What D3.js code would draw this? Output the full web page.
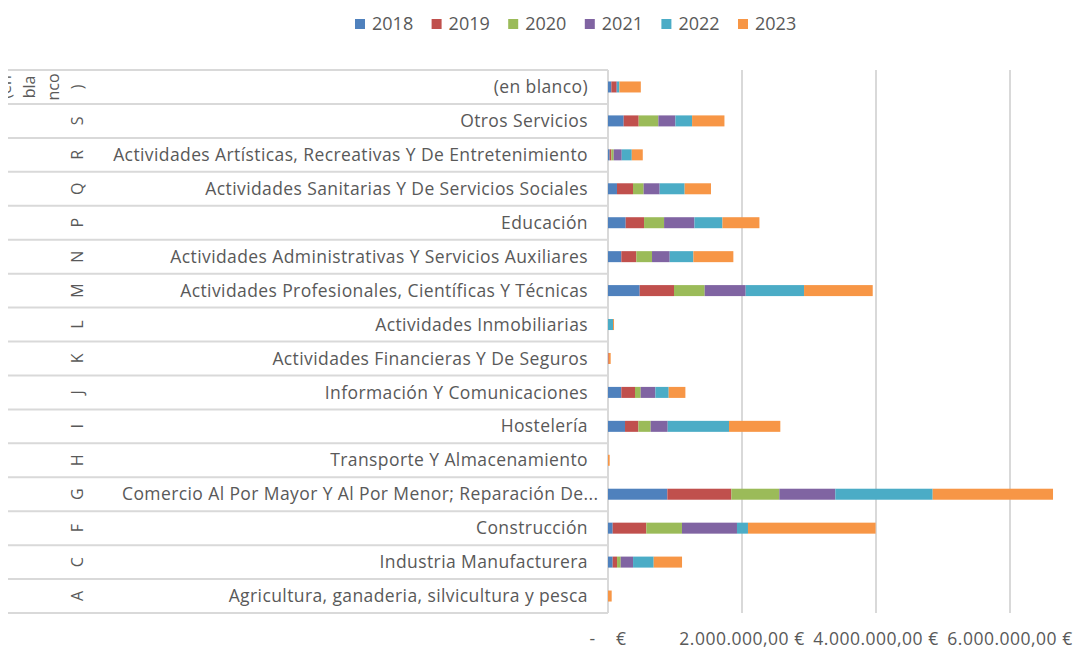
<!DOCTYPE html>
<html lang="es">
<head>
<meta charset="UTF-8">
<title>Importes por sector y año</title>
<style>
  body { margin: 0; background: #fff; font-family: 'Open Sans', 'Liberation Sans', Arial, sans-serif; }
  svg { display: block; }
  .lbl { fill: #595959; }
</style>
</head>
<body>
<svg id="chart" width="1078" height="650"></svg>
<script src="https://d3js.org/d3.v7.min.js"></script>
<script>
// sector codes (outer axis level) and names, top row first
const codes = ["(en blanco)", "S", "R", "Q", "P", "N", "M", "L", "K", "J", "I", "H", "G", "F", "C", "A"];
const sectors = [
  "(en blanco)",
  "Otros Servicios",
  "Actividades Artísticas, Recreativas Y De Entretenimiento",
  "Actividades Sanitarias Y De Servicios Sociales",
  "Educación",
  "Actividades Administrativas Y Servicios Auxiliares",
  "Actividades Profesionales, Científicas Y Técnicas",
  "Actividades Inmobiliarias",
  "Actividades Financieras Y De Seguros",
  "Información Y Comunicaciones",
  "Hostelería",
  "Transporte Y Almacenamiento",
  "Comercio Al Por Mayor Y Al Por Menor; Reparación De Vehículos De Motor Y Motocicletas",
  "Construcción",
  "Industria Manufacturera",
  "Agricultura, ganaderia, silvicultura y pesca"
];
const years = ["2018", "2019", "2020", "2021", "2022", "2023"];

// euros per year, same order as sectors
const v2018 = [50000, 234000, 25000, 134000, 264000, 199000, 473000, 0, 0, 199000, 254000, 0, 886000, 70000, 70000, 0];
const v2019 = [75000, 224000, 25000, 239000, 274000, 224000, 512000, 0, 10000, 204000, 199000, 0, 955000, 502000, 65000, 0];
const v2020 = [0, 294000, 35000, 159000, 299000, 234000, 458000, 0, 0, 85000, 184000, 0, 716000, 532000, 55000, 0];
const v2021 = [10000, 254000, 120000, 239000, 453000, 264000, 612000, 0, 0, 219000, 254000, 0, 836000, 821000, 184000, 0];
const v2022 = [35000, 249000, 150000, 373000, 418000, 353000, 871000, 75000, 0, 199000, 915000, 0, 1453000, 164000, 308000, 0];
const v2023 = [320000, 483000, 164000, 393000, 552000, 597000, 1025000, 15000, 30000, 249000, 766000, 25000, 1796000, 1905000, 423000, 55000];

const xTicks = [0, 2000000, 4000000, 6000000];
const colors = ["#4F81BD", "#C0504D", "#9BBB59", "#8064A2", "#4BACC6", "#F79646"];

const series = [v2018, v2019, v2020, v2021, v2022, v2023];
const rows = sectors.map((name, i) => {
  const r = { code: codes[i], name: name };
  years.forEach((y, k) => r[y] = series[k][i]);
  return r;
});

const svg = d3.select("#chart");
const plotLeft = 608, plotTop = 70, plotBottom = 613;

const x = d3.scaleLinear().domain([0, 6000000]).range([plotLeft, 1010]);
const y = d3.scaleBand().domain(codes).range([plotTop, plotBottom]);
const color = d3.scaleOrdinal().domain(years).range(colors);

// gridlines
svg.append("g")
  .selectAll("line")
  .data(xTicks)
  .join("line")
  .attr("x1", d => x(d)).attr("x2", d => x(d))
  .attr("y1", plotTop).attr("y2", plotBottom)
  .attr("stroke", "#d9d9d9")
  .attr("stroke-width", 2);

// row separators of the category axis
const seps = codes.map(c => y(c)).concat([plotBottom]);
svg.append("g")
  .selectAll("line")
  .data(seps)
  .join("line")
  .attr("x1", 8).attr("x2", plotLeft)
  .attr("y1", d => d).attr("y2", d => d)
  .attr("stroke", "#d9d9d9")
  .attr("stroke-width", 2);

// stacked bars
const stack = d3.stack().keys(years);
const barH = 11;
svg.append("g")
  .selectAll("g")
  .data(stack(rows))
  .join("g")
  .attr("fill", d => color(d.key))
  .selectAll("rect")
  .data(d => d)
  .join("rect")
  .attr("x", d => x(d[0]))
  .attr("y", d => y(d.data.code) + y.bandwidth() / 2 - barH / 2)
  .attr("width", d => x(d[1]) - x(d[0]))
  .attr("height", barH);

// inner labels (sector names); only labels that don't fit get an ellipsis
const maxW = 500, cutW = 482;
svg.append("g")
  .selectAll("text")
  .data(rows)
  .join("text")
  .attr("class", "lbl")
  .attr("x", 588)
  .attr("y", d => y(d.code) + y.bandwidth() / 2)
  .attr("dy", "0.35em")
  .attr("text-anchor", "end")
  .style("font-size", "17.5px")
  .style("letter-spacing", "0.4px")
  .text(d => d.name)
  .each(function (d) {
    const t = d3.select(this);
    if (this.getComputedTextLength() > maxW) {
      let s = d.name;
      while (s.length > 0) {
        s = s.slice(0, -1);
        t.text(s.trimEnd() + "...");
        if (this.getComputedTextLength() <= cutW) break;
      }
      t.attr("x", 122).attr("text-anchor", "start");
    }
  });

// outer labels (codes, rotated)
const defs = svg.append("defs");
defs.append("clipPath").attr("id", "outerClip")
  .append("rect").attr("x", 8).attr("y", plotTop).attr("width", 100).attr("height", plotBottom - plotTop);

const outer = svg.append("g").attr("clip-path", "url(#outerClip)");
rows.forEach(r => {
  const cy = y(r.code) + y.bandwidth() / 2;
  const lines = r.code.length > 1 ? ["(en", "bla", "nco", ")"] : [r.code];
  lines.forEach((ln, k) => {
    const cx = 77 - (lines.length - 1 - k) * 24;
    outer.append("text")
      .attr("class", "lbl")
      .attr("transform", `translate(${cx + 6},${cy}) rotate(-90)`)
      .attr("text-anchor", "middle")
      .style("font-size", "16px")
      .text(ln);
  });
});

// x axis labels
const fmt = d3.formatLocale({ decimal: ",", thousands: ".", grouping: [3], currency: ["", " €"] }).format(",.2f");
svg.append("g")
  .selectAll("text")
  .data(xTicks)
  .join("text")
  .attr("class", "lbl")
  .attr("x", d => x(d))
  .attr("y", 645)
  .attr("text-anchor", "middle")
  .style("font-size", "17.5px")
  .style("letter-spacing", "0.5px")
  .attr("xml:space", "preserve")
  .text(d => d === 0 ? "-    €" : fmt(d) + " €");

// legend
const legend = svg.append("g");
years.forEach((yr, i) => {
  const lx = 355 + i * 76.6;
  legend.append("rect")
    .attr("x", lx).attr("y", 19)
    .attr("width", 10).attr("height", 10)
    .attr("fill", color(yr));
  legend.append("text")
    .attr("class", "lbl")
    .attr("x", lx + 17).attr("y", 24)
    .attr("dy", "0.35em")
    .style("font-size", "18px")
    .text(yr);
});
</script>
</body>
</html>
